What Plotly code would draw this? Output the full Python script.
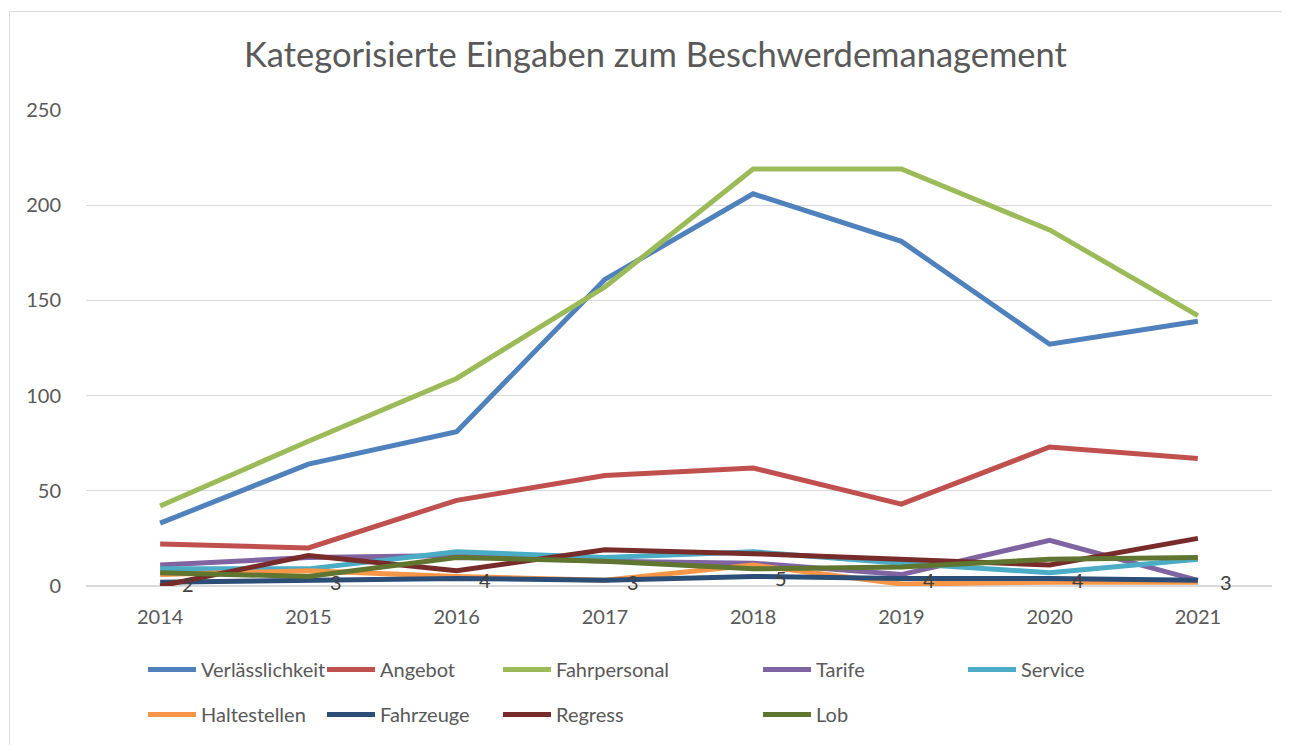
import plotly.graph_objects as go

years = ["2014", "2015", "2016", "2017", "2018", "2019", "2020", "2021"]

verlaesslichkeit = [33, 64, 81, 161, 206, 181, 127, 139]
angebot = [22, 20, 45, 58, 62, 43, 73, 67]
fahrpersonal = [42, 76, 109, 157, 219, 219, 187, 142]
tarife = [11, 15, 16, 13, 12, 6, 24, 3]
service = [9, 9, 18, 15, 18, 12, 7, 14]
haltestellen = [6, 8, 5, 3, 11, 1, 2, 2]
fahrzeuge = [2, 3, 4, 3, 5, 4, 4, 3]
regress = [0, 16, 8, 19, 17, 14, 11, 25]
lob = [7, 5, 15, 13, 9, 10, 14, 15]

series = [
    ("Verlässlichkeit", verlaesslichkeit, "#4F81BD", "legend"),
    ("Angebot", angebot, "#C0504D", "legend2"),
    ("Fahrpersonal", fahrpersonal, "#9BBB59", "legend3"),
    ("Tarife", tarife, "#8064A2", "legend4"),
    ("Service", service, "#4BACC6", "legend5"),
    ("Haltestellen", haltestellen, "#F79646", "legend"),
    ("Fahrzeuge", fahrzeuge, "#2C4D75", "legend2"),
    ("Regress", regress, "#772C2A", "legend3"),
    ("Lob", lob, "#5F7530", "legend4"),
]

FONT = "Lato"
TXT = "#595959"

fig = go.Figure()
for name, vals, col, lg in series:
    fig.add_trace(go.Scatter(
        x=years, y=vals, name=name, mode="lines",
        line=dict(color=col, width=5),
        legend=lg, legendgroup=name,
    ))

# data labels for Fahrzeuge (category index positions)
for i, v in enumerate(fahrzeuge):
    fig.add_annotation(x=i, y=v, xref="x", yref="y", text=str(v),
                       showarrow=False, xanchor="left", yanchor="middle",
                       xshift=20, yshift=-2,
                       font=dict(family=FONT, size=20, color="#404040"))

W, H = 1290, 745
OFF = 8  # page body margin
L, R, T, B = 78, 26, 102, 167
pw, ph = W - L - R, H - T - B

def px(P):
    return (P - OFF - L) / pw

def py(P):
    return (H - B - (P - OFF)) / ph

# chart border
fig.add_shape(type="rect", xref="paper", yref="paper",
              x0=px(9.5), x1=px(1286.5), y0=py(800), y1=py(11.5),
              line=dict(color="#D9D9D9", width=1), fillcolor="rgba(0,0,0,0)",
              layer="below")

leg_common = dict(orientation="v", xanchor="left", yanchor="top",
                  xref="container", yref="container",
                  font=dict(family=FONT, size=20, color=TXT),
                  bgcolor="rgba(0,0,0,0)", tracegroupgap=16,
                  itemwidth=48, borderwidth=0)
line_starts = [148, 327, 503, 763, 968]
names = ["legend", "legend2", "legend3", "legend4", "legend5"]
layout_legs = {}
for n, ls in zip(names, line_starts):
    layout_legs[n] = dict(leg_common, x=(ls - 5 - OFF) / W,
                          y=1 - (670 - OFF - 20) / H)

fig.update_layout(
    width=W, height=H,
    margin=dict(l=L, r=R, t=T, b=B, autoexpand=False),
    paper_bgcolor="white", plot_bgcolor="white",
    title=dict(text="Kategorisierte Eingaben zum Beschwerdemanagement",
               x=(655.5 - OFF) / W, xref="container", xanchor="center",
               y=1 - (55 - OFF) / H, yref="container", yanchor="middle",
               font=dict(family=FONT, size=34.5, color=TXT)),
    font=dict(family=FONT, size=20, color=TXT),
    xaxis=dict(type="category", range=[-0.5, 7.5], showgrid=False,
               showline=False, zeroline=False, ticks="",
               tickfont=dict(family=FONT, size=20, color=TXT),
               ticklabelstandoff=17),
    yaxis=dict(range=[0, 250], dtick=50, showgrid=True, gridcolor="#D9D9D9",
               gridwidth=1, zeroline=True, zerolinecolor="#D9D9D9", zerolinewidth=1.5,
               showline=False, ticks="",
               tickfont=dict(family=FONT, size=20, color=TXT),
               ticklabelstandoff=24),
    showlegend=True,
    **layout_legs,
)

fig.write_html("out.html")
